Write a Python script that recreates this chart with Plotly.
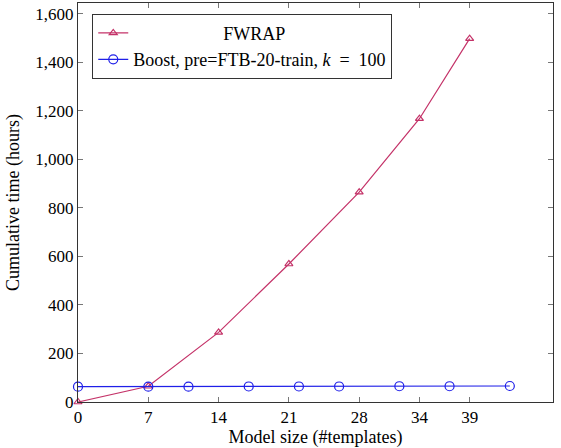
import plotly.graph_objects as go

fwrap_x = [0, 7, 14, 21, 28, 34, 39]
fwrap_y = [0, 65, 287, 569, 865, 1168, 1498]

boost_x = [0, 7, 11, 17, 22, 26, 32, 37, 43]
boost_y = [63, 63, 63, 64, 64, 64, 65, 65, 66]

x_ticks = [0, 7, 14, 21, 28, 34, 39]
y_ticks = [0, 200, 400, 600, 800, 1000, 1200, 1400, 1600]

red = "#c43268"
blue = "#1f1fe8"
font = "Liberation Serif"
fs = 17

fig = go.Figure()
fig.add_trace(go.Scatter(
    x=fwrap_x, y=fwrap_y, mode="lines+markers",
    name="\u00a0" * 20 + "FWRAP",
    line=dict(color=red, width=1.2),
    marker=dict(symbol="triangle-up-open", size=7, color=red, line=dict(width=1.2)),
    cliponaxis=False,
))
fig.add_trace(go.Scatter(
    x=boost_x, y=boost_y, mode="lines+markers",
    name="Boost, pre=FTB-20-train, <i>k</i>\u2002=\u2002100",
    line=dict(color=blue, width=1.2),
    marker=dict(symbol="circle-open", size=9, color=blue, line=dict(width=1.2)),
    cliponaxis=False,
))

axis_common = dict(
    showline=True, linecolor="#333333", linewidth=1,
    mirror="allticks", ticks="inside", ticklen=5, tickcolor="#777777",
    showgrid=False, zeroline=False,
    tickfont=dict(family=font, size=fs, color="black"),
)

fig.update_xaxes(
    range=[0, 47.3], tickvals=x_ticks,
    title=dict(text="Model size (#templates)", font=dict(family=font, size=18, color="black"), standoff=4),
    **axis_common,
)
fig.update_yaxes(
    range=[0, 1645], tickvals=y_ticks, tickformat=",",
    title=dict(text="Cumulative time (hours)", font=dict(family=font, size=18, color="black"), standoff=11),
    **axis_common,
)

fig.update_layout(
    width=561, height=448,
    margin=dict(l=78, r=8, t=3, b=46),
    plot_bgcolor="white", paper_bgcolor="white",
    font=dict(family=font, size=fs, color="black"),
    legend=dict(
        x=0.03, y=0.973, xanchor="left", yanchor="top",
        bgcolor="white", bordercolor="#333333", borderwidth=1,
        font=dict(family=font, size=18, color="black"),
        itemwidth=30, tracegroupgap=0,
    ),
)

fig.write_html("out.html")
